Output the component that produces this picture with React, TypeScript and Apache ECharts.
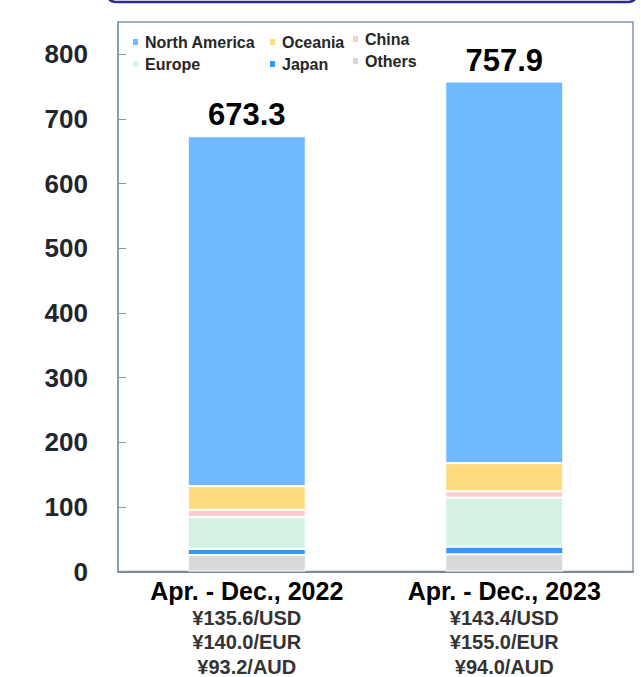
import React, { useEffect, useRef } from "react";
import * as echarts from "echarts";

const categories = ["Apr. - Dec., 2022", "Apr. - Dec., 2023"];
const usdRates = ["¥135.6/USD", "¥143.4/USD"];
const eurRates = ["¥140.0/EUR", "¥155.0/EUR"];
const audRates = ["¥93.2/AUD", "¥94.0/AUD"];
const totals = [673.3, 757.9];

const others = [25.5, 26.6];
const japan = [9.3, 11.7];
const europe = [49.4, 76.0];
const china = [11.3, 9.7];
const oceania = [36.6, 43.6];
const northAmerica = [541.2, 590.3];

const yTicks = [0, 100, 200, 300, 400, 500, 600, 700, 800];

const FONT = "'Liberation Sans', Arial, sans-serif";

const seriesDefs = [
  { name: "Others", data: others, color: "#d9d9d9" },
  { name: "Japan", data: japan, color: "#3399ff" },
  { name: "Europe", data: europe, color: "#d4f3e3" },
  { name: "China", data: china, color: "#ffcccc" },
  { name: "Oceania", data: oceania, color: "#ffdb80" },
  { name: "North America", data: northAmerica, color: "#70b8ff" },
];

export default function App() {
  const ref = useRef<HTMLDivElement>(null);
  useEffect(() => {
    if (!ref.current) return;
    const chart = echarts.init(ref.current, null, { renderer: "svg" });
    const legendText = {
      fontSize: 16,
      fontWeight: "bold" as const,
      color: "#262626",
      fontFamily: FONT,
      lineHeight: 18,
    };
    const mkLegend = (data: string[], left: number, top: number) => ({
      data,
      orient: "vertical",
      left,
      top,
      padding: 0,
      itemGap: 4,
      itemWidth: 7,
      itemHeight: 8,
      icon: "rect",
      selectedMode: false,
      textStyle: { ...legendText, padding: [0, 0, 0, 1] },
    });
    chart.setOption({
      animation: false,
      backgroundColor: "#fff",
      graphic: [
        {
          type: "rect",
          shape: { x: 106, y: -40, width: 532, height: 42, r: 10 },
          style: { fill: "#fff", stroke: "#2b2b90", lineWidth: 2.5 },
        },
      ],
      legend: [
        mkLegend(["North America", "Europe"], 131, 33),
        mkLegend(["Oceania", "Japan"], 268, 33),
        mkLegend(["China", "Others"], 351, 30),
      ],
      grid: {
        left: 118,
        right: 8,
        top: 22,
        bottom: 105.5,
        show: true,
        borderColor: "#8497b0",
        borderWidth: 1.5,
        containLabel: false,
      },
      xAxis: {
        type: "category",
        data: categories,
        axisLine: { show: true, lineStyle: { color: "#7f8a96", width: 2 } },
        axisTick: { show: false },
        axisLabel: {
          interval: 0,
          margin: 4,
          formatter: (v: string, i: number) =>
            `{a|${v}}\n{b|${usdRates[i]}}\n{b|${eurRates[i]}}\n{b|${audRates[i]}}`,
          rich: {
            a: {
              fontSize: 25,
              fontWeight: "bold",
              color: "#000",
              fontFamily: FONT,
              lineHeight: 30,
            },
            b: {
              fontSize: 20,
              fontWeight: "bold",
              color: "#333333",
              fontFamily: FONT,
              lineHeight: 24.4,
            },
          },
        },
      },
      yAxis: {
        type: "value",
        min: 0,
        max: 850,
        interval: 100,
        splitLine: { show: false },
        axisLine: { show: true, lineStyle: { color: "#8497b0", width: 1.5 } },
        axisTick: { show: true, inside: true, length: 8, lineStyle: { color: "#8497b0" } },
        axisLabel: {
          margin: 30,
          fontSize: 26,
          fontWeight: "bold",
          color: "#1f2630",
          fontFamily: FONT,
          showMaxLabel: false,
          formatter: (v: number) => (yTicks.includes(v) ? String(v) : ""),
        },
      },
      series: seriesDefs.map((s, idx) => ({
        name: s.name,
        type: "bar",
        stack: "total",
        barWidth: 118,
        data: s.data,
        itemStyle: { color: s.color, borderColor: "#fff", borderWidth: 1 },
        label:
          idx === seriesDefs.length - 1
            ? {
                show: true,
                position: "top",
                distance: 6,
                formatter: (p: any) => totals[p.dataIndex].toFixed(1),
                fontSize: 31,
                fontWeight: "bold",
                color: "#000",
                fontFamily: FONT,
              }
            : { show: false },
      })),
    });
    return () => chart.dispose();
  }, []);
  return (
    <div
      ref={ref}
      style={{ position: "fixed", left: 0, top: 0, width: 641, height: 677 }}
    />
  );
}
